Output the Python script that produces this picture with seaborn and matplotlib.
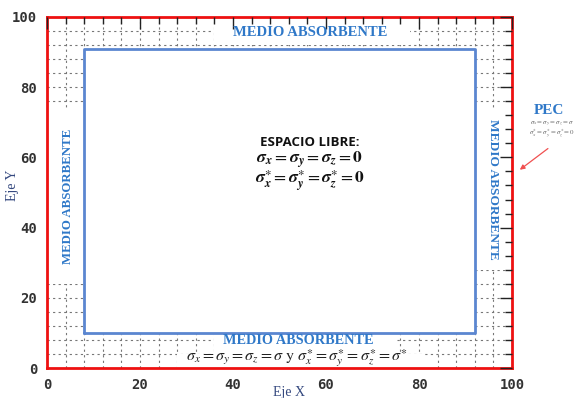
import matplotlib
matplotlib.use("Agg")
import matplotlib.pyplot as plt
from matplotlib.ticker import MultipleLocator
from matplotlib.patches import Rectangle
import numpy as np
import seaborn as sns
import pandas as pd

# Simulation domain (0..100 in both directions) and the free-space region
domain = [0, 100]
free_x = [8, 92, 92, 8, 8]
free_y = [10, 10, 91, 91, 10]
major_ticks = [0, 20, 40, 60, 80, 100]
minor_step = 4

pml_label = "MEDIO ABSORBENTE"
free_title = "ESPACIO LIBRE:"
free_eq1 = (r"$\mathbfit{\sigma}_\mathbfit{x} = \mathbfit{\sigma}_\mathbfit{y}"
            r" = \mathbfit{\sigma}_\mathbfit{z} = \mathbf{0}$")
free_eq2 = (r"$\mathbfit{\sigma}^{\ast}_\mathbfit{x} = \mathbfit{\sigma}^{\ast}_\mathbfit{y}"
            r" = \mathbfit{\sigma}^{\ast}_\mathbfit{z} = \mathbf{0}$")
pml_eq = (r"$\sigma_x = \sigma_y = \sigma_z = \sigma\ \mathrm{y}\ "
          r"\sigma^{\ast}_x = \sigma^{\ast}_y = \sigma^{\ast}_z = \sigma^{\ast}$")
pec_label = "PEC"
pec_eq1 = r"$\sigma_x = \sigma_y = \sigma_z = \sigma$"
pec_eq2 = r"$\sigma^{\ast}_x = \sigma^{\ast}_y = \sigma^{\ast}_z = 0$"

sns.set_theme(style="white")
plt.rcParams["mathtext.fontset"] = "stix"

blue_txt = "#2f78c8"
blue_line = "#5b86d0"

fig = plt.figure(figsize=(5.83, 3.98), dpi=100)
ax = fig.add_axes([47 / 583, 30 / 398, 465 / 583, 351 / 398])

ax.set_xlim(domain)
ax.set_ylim(domain)
ax.xaxis.set_minor_locator(MultipleLocator(minor_step))
ax.yaxis.set_minor_locator(MultipleLocator(minor_step))
ax.set_xticks(major_ticks)
ax.set_yticks(major_ticks)
ax.set_axisbelow(False)

# dotted grid at every minor step, kept beneath the masks
grid_pos = np.arange(minor_step, domain[1], minor_step)
gkw = dict(color="#777777", linestyles=(0, (2, 3)), linewidth=0.8, zorder=0.5)
ax.vlines(grid_pos, domain[0], domain[1], **gkw)
ax.hlines(grid_pos, domain[0], domain[1], **gkw)

# free space: white fill hides the grid, outline drawn with seaborn
ax.fill(free_x, free_y, color="white", zorder=1)
df = pd.DataFrame({"x": free_x, "y": free_y})
sns.lineplot(data=df, x="x", y="y", sort=False, estimator=None,
             color=blue_line, linewidth=2.0, ax=ax, zorder=2)

# blank panels behind the absorbing-layer captions
for (x0, y0, w, h) in [(36, 92, 42, 8), (0, 24, 8, 50), (92, 28, 8, 46),
                       (36, 4, 39, 6), (28, 0, 53, 4)]:
    ax.add_patch(Rectangle((x0, y0), w, h, facecolor="white", edgecolor="none", zorder=1))

for s in ax.spines.values():
    s.set_color("#ee1111")
    s.set_linewidth(2.0)

ax.tick_params(which="both", direction="in", top=True, right=True,
               color="#222222", width=1.0)
ax.tick_params(which="major", length=8.5, pad=7)
ax.tick_params(which="minor", length=5)
for lab in ax.get_xticklabels() + ax.get_yticklabels():
    lab.set_family("DejaVu Sans Mono")
    lab.set_fontsize(10)
    lab.set_fontweight("bold")
    lab.set_color("#333333")

ax.set_xlabel("Eje X", family="Liberation Serif", fontsize=10, color="#34487f")
ax.set_ylabel("Eje Y", family="Liberation Serif", fontsize=10, color="#34487f")
ax.xaxis.set_label_coords(0.52, -0.071, transform=ax.transAxes)
ax.yaxis.set_label_coords(-0.075, 0.52, transform=ax.transAxes)
ax.xaxis.label.set_va("center")
ax.yaxis.label.set_va("center")

tkw = dict(family="Liberation Serif", fontweight="bold", color=blue_txt,
           ha="center", va="center", zorder=3)
ax.text(56.5, 95.5, pml_label, fontsize=10.5, **tkw)
ax.text(54, 7.7, pml_label, fontsize=10.3, **tkw)
ax.text(4.6, 49, pml_label, rotation=90, fontsize=9.3, **tkw)
ax.text(96, 51, pml_label, rotation=-90, fontsize=9.6, **tkw)

ax.text(53.8, 2.7, pml_eq, fontsize=11.6, color="#222222", ha="center", va="center", zorder=2)

ax.text(56.5, 64.3, free_title, family="Open Sans", fontweight="bold", fontsize=9.5,
        color="#111111", ha="center", va="center", zorder=3)
ax.text(56.5, 59.3, free_eq1, fontsize=12.6, color="#111111", ha="center", va="center", zorder=3)
ax.text(56.5, 53.3, free_eq2, fontsize=12.6, color="#111111", ha="center", va="center", zorder=3)

ax.text(108, 73.3, pec_label, family="Liberation Serif", fontweight="bold", fontsize=11,
        color=blue_txt, ha="center", va="center", clip_on=False)
ax.text(108.5, 69.3, pec_eq1, fontsize=5, color="#666666", ha="center", va="center", clip_on=False)
ax.text(108.5, 66.6, pec_eq2, fontsize=5, color="#666666", ha="center", va="center", clip_on=False)
ax.annotate("", xy=(101.2, 56.0), xytext=(108.2, 63.0), xycoords="data",
            annotation_clip=False,
            arrowprops=dict(arrowstyle="-|>", color="#f05050", lw=0.9,
                            mutation_scale=7))

fig.savefig("out.png", dpi=100)
